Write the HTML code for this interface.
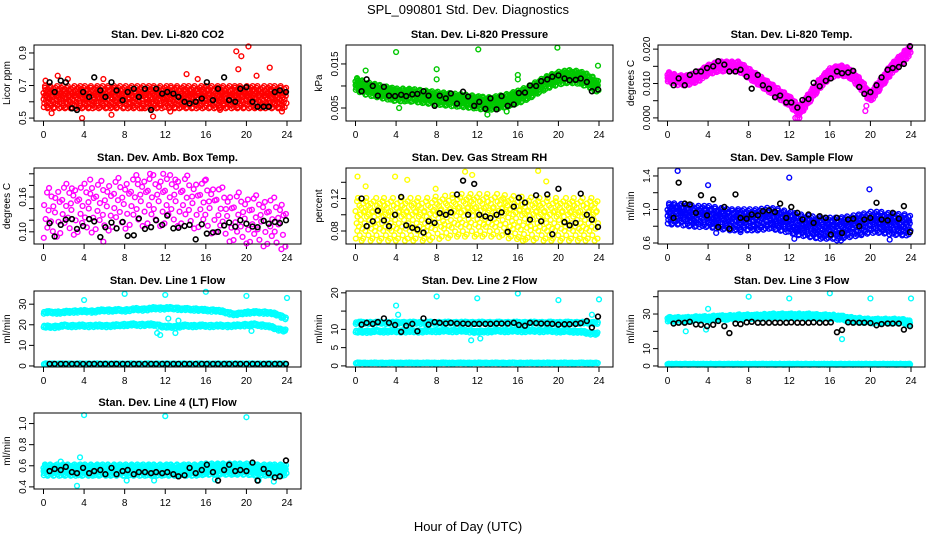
<!DOCTYPE html>
<html><head><meta charset="utf-8">
<style>
html,body{margin:0;padding:0;background:#fff;}
svg{display:block;font-family:"Liberation Sans",Arial,sans-serif;}
</style></head>
<body>
<svg id="chart" width="936" height="540" viewBox="0 0 936 540">
<text x="468" y="14" text-anchor="middle" font-size="13">SPL_090801  Std. Dev. Diagnostics</text>
<text x="468" y="531" text-anchor="middle" font-size="13">Hour of Day (UTC)</text>
</svg>
<script>
// ---- data ----
const hours = [0,1,2,3,4,5,6,7,8,9,10,11,12,13,14,15,16,17,18,19,20,21,22,23,24];
const xTicks = [0,4,8,12,16,20,24];
const blackX = [0.6,1.1,1.7,2.2,2.8,3.3,3.9,4.5,5.0,5.6,6.1,6.7,7.2,7.8,8.3,8.9,9.4,10.0,10.6,11.1,11.7,12.2,12.8,13.3,13.9,14.4,15.0,15.6,16.1,16.7,17.2,17.8,18.3,18.9,19.4,20.0,20.6,21.1,21.7,22.2,22.8,23.3,23.9];
const jitter = [-0.9,0.35,-0.2,0.8,-0.55,0.1,0.95,-0.35,0.6,-0.75,0.2,-0.05,0.5,-1.0,0.7,-0.45,0.3];
const xJitter = [0.03,-0.04,0.01,0.05,-0.02,0.0,-0.05,0.04,-0.01,0.02,-0.03];

const co2Center = [0.63,0.63,0.63,0.63,0.63,0.63,0.63,0.63,0.63,0.63,0.63,0.63,0.63,0.63,0.63,0.63,0.63,0.63,0.63,0.63,0.63,0.63,0.63,0.63,0.63];
const co2Black = [0.72,0.66,0.73,0.72,0.56,0.55,0.66,0.63,0.75,0.67,0.63,0.72,0.67,0.61,0.66,0.68,0.63,0.68,0.55,0.68,0.65,0.66,0.65,0.63,0.6,0.59,0.6,0.62,0.72,0.61,0.68,0.75,0.61,0.6,0.68,0.69,0.6,0.57,0.57,0.57,0.66,0.67,0.66];
const co2OutX = [19,19.5,20.2,19.2,22.3,14.1,1.4,6.7,0.8,3.8,10.8,21,23.5,0.2,5.9,9.7,15.2,17.4,12.5,2.4];
const co2OutY = [0.91,0.88,0.94,0.80,0.81,0.77,0.76,0.52,0.53,0.50,0.51,0.76,0.54,0.73,0.74,0.56,0.74,0.55,0.54,0.74];

const presCenter = [0.0105,0.0095,0.009,0.0085,0.008,0.008,0.0078,0.0075,0.0073,0.007,0.0068,0.0066,0.0063,0.006,0.0063,0.0068,0.0075,0.0085,0.0098,0.011,0.0118,0.0122,0.012,0.0112,0.0098];
const presBlack = [0.0088,0.0115,0.01,0.0078,0.0098,0.0078,0.0077,0.008,0.0077,0.0081,0.0082,0.0088,0.0078,0.0055,0.0078,0.0072,0.0083,0.006,0.0087,0.0076,0.0055,0.0064,0.0048,0.0072,0.0047,0.0077,0.0055,0.0058,0.0084,0.0085,0.0101,0.01,0.0111,0.0115,0.0121,0.0124,0.0117,0.0113,0.0114,0.0117,0.0109,0.0088,0.0092];
const presOutX = [4,12.1,19.9,23.9,8,1,8,16,16,13,4.3,14.9];
const presOutY = [0.0177,0.0183,0.0187,0.0146,0.0138,0.0135,0.0115,0.0125,0.0115,0.0035,0.005,0.0042];

const tempCenter = [0.012,0.011,0.011,0.012,0.014,0.015,0.015,0.015,0.013,0.011,0.009,0.007,0.005,0.002,0.006,0.010,0.013,0.014,0.013,0.010,0.006,0.010,0.014,0.017,0.020];
const tempBlack = [0.0095,0.0115,0.0095,0.0125,0.0135,0.0135,0.0145,0.015,0.0165,0.0155,0.0135,0.0135,0.014,0.012,0.0085,0.0125,0.0095,0.0085,0.006,0.0065,0.0045,0.0045,0.003,0.0052,0.0055,0.0102,0.0092,0.0108,0.0115,0.0135,0.013,0.0132,0.0137,0.009,0.007,0.0075,0.0095,0.0118,0.014,0.0145,0.0148,0.0157,0.0208];
const tempOutX = [12.6,12.8,13.0,19.5,19.6];
const tempOutY = [0.0,0.0,0.0,0.002,0.0035];

const ambCenter = [0.13,0.135,0.14,0.14,0.14,0.145,0.145,0.15,0.15,0.155,0.155,0.155,0.155,0.155,0.155,0.15,0.145,0.14,0.13,0.125,0.125,0.12,0.12,0.115,0.115];
const ambBlack = [0.115,0.092,0.112,0.121,0.122,0.105,0.11,0.122,0.118,0.091,0.108,0.116,0.106,0.117,0.093,0.094,0.123,0.105,0.108,0.12,0.112,0.128,0.106,0.107,0.11,0.112,0.087,0.113,0.097,0.099,0.1,0.111,0.116,0.109,0.12,0.114,0.109,0.108,0.119,0.114,0.117,0.115,0.12];
const ambOutX = [4.6,11.8,13,2.8,16,5.9,9.3,10.5];
const ambOutY = [0.19,0.2,0.19,0.175,0.19,0.083,0.19,0.2];

const rhCenter = [0.095,0.095,0.095,0.095,0.095,0.095,0.095,0.095,0.097,0.098,0.1,0.1,0.1,0.1,0.1,0.098,0.097,0.096,0.095,0.095,0.095,0.095,0.095,0.095,0.095];
const rhBlack = [0.12,0.086,0.092,0.105,0.093,0.086,0.1,0.122,0.087,0.084,0.082,0.078,0.092,0.09,0.102,0.1,0.103,0.125,0.142,0.1,0.138,0.1,0.098,0.096,0.1,0.103,0.079,0.11,0.121,0.115,0.094,0.124,0.092,0.125,0.076,0.132,0.091,0.087,0.09,0.126,0.1,0.094,0.085];
const rhOutX = [0.2,3.9,5.1,10.8,11.5,18,18.8,16.5,1,7.9];
const rhOutY = [0.147,0.147,0.143,0.153,0.149,0.154,0.141,0.068,0.135,0.132];

const flowCenter = [0.95,0.95,0.93,0.92,0.92,0.9,0.88,0.88,0.88,0.88,0.9,0.88,0.85,0.82,0.8,0.78,0.78,0.78,0.8,0.82,0.85,0.85,0.83,0.82,0.82];
const flowBlack = [0.9,1.32,1.07,1.06,0.96,1.17,0.93,1.12,0.79,1.03,0.77,1.18,0.9,0.89,0.94,0.93,0.98,0.99,0.97,1.07,0.9,1.03,0.96,0.88,0.94,0.84,0.92,0.9,0.7,0.9,0.72,0.88,0.89,0.8,0.88,0.9,1.08,0.88,0.87,0.96,0.89,1.04,0.73];
const flowOutX = [1.0,4.0,12.0,19.9,4.8,12.5,16.7,17.1,21.9,7.2];
const flowOutY = [1.46,1.29,1.38,1.24,0.72,0.65,0.63,0.63,0.64,0.73];

const l1Upper = [26,26,26,26.5,26.5,26.5,27,27,27,27.5,27.5,28,28,28,27.5,27.5,27,27,26,25,26,26,26,25,23];
const l1Lower = [19,19,19.5,19.5,19.5,19.5,19.5,19.5,20,20,20,20,19,19,19.5,19.5,19.5,19.5,19.5,19.5,20,20,19.5,18,17];
const l1Base = [1,1,1,1,1,1,1,1,1,1,1,1,1,1,1,1,1,1,1,1,1,1,1,1,1];
const l1Black = [1,1,1,1,1,1,1,1,1,1,1,1,1,1,1,1,1,1,1,1,1,1,1,1,1,1,1,1,1,1,1,1,1,1,1,1,1,1,1,1,1,1,1];
const l1OutX = [4,8,12,16,20,24,11.5,12.3,13.3,13,11.2,20.5];
const l1OutY = [32,35,34.5,36,34,33,15,23,22,16,16,17];

const l2Upper = [11.8,11.8,11.8,11.8,11.8,11.8,11.8,11.8,11.8,11.8,11.8,11.8,11.8,11.8,11.8,11.8,11.8,11.8,11.8,11.8,11.8,11.8,11.8,11.8,11.8];
const l2Lower = [9.3,9.4,9.5,9.5,9.5,9.5,9.5,9.5,9.6,9.6,9.6,9.6,9.3,9.5,9.6,9.6,9.6,9.6,9.6,9.6,9.5,9.5,9.4,9.0,8.8];
const l2Base = [0.8,0.8,0.8,0.8,0.8,0.8,0.8,0.8,0.8,0.8,0.8,0.8,0.8,0.8,0.8,0.8,0.8,0.8,0.8,0.8,0.8,0.8,0.8,0.8,0.8];
const l2Black = [11.3,11.8,11.5,12,13,11.8,11.2,9.3,11,11.5,9.5,13,11.3,12,11.8,11.6,11.8,11.6,11.6,11.5,11.5,11.5,11.5,11.5,11.6,11.6,11.6,11.8,11.2,11,11.8,11.7,11.6,11.6,11.5,11.3,11.4,11.4,11.5,11.7,12.3,10.5,13.5];
const l2OutX = [4,8,12,16,20,24,11.4,12.3,4.2,23.3];
const l2OutY = [16.5,19,18.5,19.8,18,18.2,7,7.5,14,14];

const l3Band = [27,27,27,27.5,27.5,28,28,28.5,28.5,28.5,29,29,29,29,29,28.5,28.5,28,27,26.5,26,26,26,26,25];
const l3Base = [1,1,1,1,1,1,1,1,1,1,1,1,1,1,1,1,1,1,1,1,1,1,1,1,1];
const l3Black = [24.5,25,25,25.5,24,23.8,23,23.8,26,23,19,24.5,24.2,25.2,25.5,25,25,25,25,25,25,25.2,25,25,25,25.2,25,25,25.2,19.5,20.8,25.2,25,25,25,24.8,23.5,24.2,24.5,24.5,24.5,21,23];
const l3OutX = [4,8,12,16,20,24,17.2,1.8,3.8];
const l3OutY = [33,40,39,42,39,39,15.5,20,21];

const l4Center = [0.56,0.56,0.56,0.56,0.56,0.56,0.56,0.56,0.56,0.56,0.56,0.56,0.56,0.56,0.56,0.56,0.57,0.57,0.57,0.57,0.57,0.56,0.56,0.56,0.56];
const l4Black = [0.55,0.57,0.56,0.59,0.54,0.53,0.58,0.53,0.55,0.56,0.52,0.58,0.52,0.55,0.56,0.52,0.54,0.54,0.53,0.54,0.53,0.54,0.52,0.5,0.51,0.58,0.53,0.56,0.61,0.54,0.46,0.56,0.61,0.55,0.56,0.55,0.63,0.46,0.57,0.53,0.49,0.5,0.65];
const l4OutX = [4,12,20,3.6,3.3,1.7,8.2,10.9,16.9,21.2,22.7];
const l4OutY = [1.08,1.07,1.06,0.68,0.41,0.64,0.46,0.46,0.47,0.46,0.45];

// ---- layout / drawing ----
const NS = "http://www.w3.org/2000/svg";
const svg = document.getElementById('chart');
function mk(tag, attrs, parent){const e=document.createElementNS(NS,tag);for(const k in attrs)e.setAttribute(k,attrs[k]);parent.appendChild(e);return e;}
function interp(arr,h){const i=Math.max(0,Math.min(23,Math.floor(h)));const t=Math.max(0,Math.min(1,h-i));return arr[i]*(1-t)+arr[i+1]*t;}

const colX=[34,346,658], rowY=[45,168,291,413], W=267, H=76;
const panels=[
 {t:"Stan. Dev. Li-820 CO2",yl:"Licor ppm",c:0,r:0,y0:0.482,y1:0.949,ticks:[0.5,0.6,0.7,0.8,0.9],labs:["0.5","","0.7","","0.9"],col:"#ff0000",bands:[[co2Center,0.07]],np:3,bk:co2Black,ox:co2OutX,oy:co2OutY},
 {t:"Stan. Dev. Li-820 Pressure",yl:"kPa",c:1,r:0,y0:0.00205,y1:0.0193,ticks:[0.005,0.010,0.015],labs:["0.005","","0.015"],col:"#00c800",bands:[[presCenter,0.0015]],np:3,bk:presBlack,ox:presOutX,oy:presOutY},
 {t:"Stan. Dev. Li-820 Temp.",yl:"degrees C",c:2,r:0,y0:-0.0009,y1:0.0212,ticks:[0,0.005,0.010,0.015,0.020],labs:["0.000","","0.010","","0.020"],col:"#ff00ff",bands:[[tempCenter,0.0015]],np:3,bk:tempBlack,ox:tempOutX,oy:tempOutY},
 {t:"Stan. Dev. Amb. Box Temp.",yl:"degrees C",c:0,r:1,y0:0.079,y1:0.21,ticks:[0.10,0.12,0.14,0.16,0.18,0.20],labs:["0.10","","","0.16","",""],col:"#ff00ff",bands:[[ambCenter,0.045]],np:1,bk:ambBlack,ox:ambOutX,oy:ambOutY},
 {t:"Stan. Dev. Gas Stream RH",yl:"percent",c:1,r:1,y0:0.064,y1:0.1576,ticks:[0.08,0.10,0.12,0.14],labs:["0.08","","0.12",""],col:"#ffff00",bands:[[rhCenter,0.027]],np:2,bk:rhBlack,ox:rhOutX,oy:rhOutY},
 {t:"Stan. Dev. Sample Flow",yl:"ml/min",c:2,r:1,y0:0.588,y1:1.495,ticks:[0.6,0.8,1.0,1.2,1.4],labs:["0.6","","1.0","","1.4"],col:"#0000ff",bands:[[flowCenter,0.13]],np:3,bk:flowBlack,ox:flowOutX,oy:flowOutY},
 {t:"Stan. Dev. Line 1 Flow",yl:"ml/min",c:0,r:2,y0:-0.5,y1:36.4,ticks:[0,10,20,30],labs:["0","10","20","30"],col:"#00ffff",bands:[[l1Upper,0.7],[l1Lower,0.7],[l1Base,0.3]],np:1,bk:l1Black,ox:l1OutX,oy:l1OutY},
 {t:"Stan. Dev. Line 2 Flow",yl:"ml/min",c:1,r:2,y0:-0.3,y1:20.5,ticks:[0,5,10,15,20],labs:["0","5","10","","20"],col:"#00ffff",bands:[[l2Upper,0.35],[l2Lower,0.4],[l2Base,0.15]],np:1,bk:l2Black,ox:l2OutX,oy:l2OutY},
 {t:"Stan. Dev. Line 3 Flow",yl:"ml/min",c:2,r:2,y0:-0.6,y1:43.3,ticks:[0,10,20,30,40],labs:["0","10","","30",""],col:"#00ffff",bands:[[l3Band,1.4],[l3Base,0.3]],np:2,bk:l3Black,ox:l3OutX,oy:l3OutY},
 {t:"Stan. Dev. Line 4 (LT) Flow",yl:"ml/min",c:0,r:3,y0:0.38,y1:1.10,ticks:[0.4,0.6,0.8,1.0],labs:["0.4","0.6","0.8","1.0"],col:"#00ffff",bands:[[l4Center,0.055]],np:3,bk:l4Black,ox:l4OutX,oy:l4OutY}
];

panels.forEach((p,pi)=>{
  const L=colX[p.c], T=rowY[p.r];
  const g=mk('g',{},svg);
  
  
  const xs=h=>L+9.5+h*(243.5/24);
  const ys=v=>T+H-(v-p.y0)/(p.y1-p.y0)*H;
  const tt=mk('text',{x:L+W/2,y:T-7,'text-anchor':'middle','font-size':11,'font-weight':'bold'},g);tt.textContent=p.t;
  
  
  const yl=mk('text',{x:0,y:0,'text-anchor':'middle','font-size':10,transform:`translate(${L-24},${T+H/2}) rotate(-90)`},g);yl.textContent=p.yl;
  
  
  xTicks.forEach(h=>{
    mk('line',{x1:xs(h),x2:xs(h),y1:T+H,y2:T+H+5,stroke:'#000','stroke-width':1},g);
    const tx=mk('text',{x:xs(h),y:T+H+17,'text-anchor':'middle','font-size':10},g);tx.textContent=h;
    
    
  });
  mk('line',{x1:xs(0),x2:xs(24),y1:T+H,y2:T+H,stroke:'#000'},g);
  p.ticks.forEach((v,i)=>{
    mk('line',{x1:L-5,x2:L,y1:ys(v),y2:ys(v),stroke:'#000'},g);
    if(p.labs[i]){const ty=mk('text',{x:0,y:0,'text-anchor':'middle','font-size':10,transform:`translate(${L-8},${ys(v)}) rotate(-90)`},g);ty.textContent=p.labs[i];
    
    }
  });
  mk('line',{x1:L,x2:L,y1:ys(p.ticks[0]),y2:ys(p.ticks[p.ticks.length-1]),stroke:'#000'},g);
  const pts=mk('g',{fill:'none','stroke-width':1.4},g);
  
  
  let k=0,m=0;
  p.bands.forEach(([arr,hw])=>{
    for(let h=0;h<=24;h+=0.1){
      for(let j=0;j<p.np;j++){
        const hx=Math.max(0,Math.min(24,h+xJitter[(m++)%xJitter.length]));
        const c=interp(arr,hx);
        const off=jitter[(k++)%jitter.length];
        mk('circle',{cx:xs(hx),cy:ys(c+off*hw),r:2.4,stroke:p.col},pts);
      }
    }
  });
  p.ox.forEach((x,i)=>mk('circle',{cx:xs(x),cy:ys(p.oy[i]),r:2.4,stroke:p.col},pts));
  p.bk.forEach((v,i)=>mk('circle',{cx:xs(blackX[i]),cy:ys(v),r:2.4,stroke:'#000','stroke-width':1.6},pts));
  mk('rect',{x:L,y:T,width:W,height:H,fill:'none',stroke:'#000','stroke-width':1},g);
});
</script>
</body></html>
